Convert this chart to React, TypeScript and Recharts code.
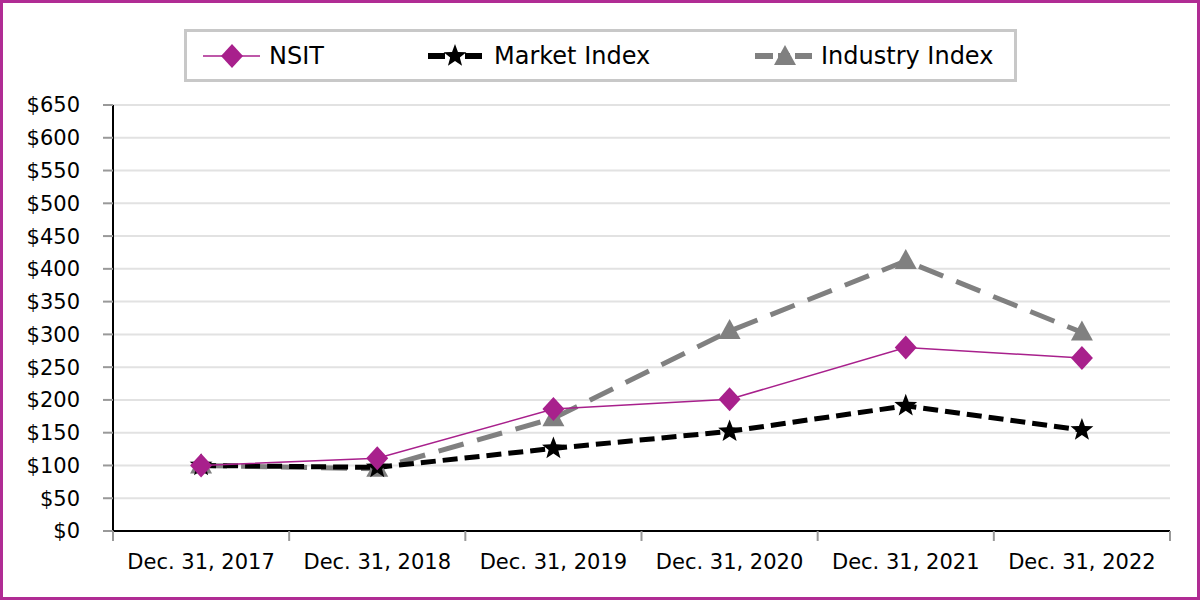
import React from "react";
import { LineChart, Line, XAxis, YAxis, CartesianGrid, Legend } from "recharts";

const years = ["Dec. 31, 2017", "Dec. 31, 2018", "Dec. 31, 2019", "Dec. 31, 2020", "Dec. 31, 2021", "Dec. 31, 2022"];
const nsit = [100, 111, 186, 201, 280, 264];
const marketIndex = [100, 97, 126, 152, 191, 154];
const industryIndex = [100, 95, 172, 305, 412, 303];
const yTicks = [0, 50, 100, 150, 200, 250, 300, 350, 400, 450, 500, 550, 600, 650];

const data = years.map((year, i) => ({
  year,
  nsit: nsit[i],
  market: marketIndex[i],
  industry: industryIndex[i],
}));

const W = 1200;
const H = 600;
const X_AXIS_H = 30;
const MARGIN = { top: 52, right: 30, bottom: 69 - X_AXIS_H, left: 0 };
const Y_AXIS_W = 113;
const BAND = (W - MARGIN.left - MARGIN.right - Y_AXIS_W) / years.length;

const MAGENTA = "#A8208C";
const GRAY = "#808080";
const FONT = "'DejaVu Sans', Verdana, sans-serif";

const starPath = (cx: number, cy: number, R: number) => {
  const r = R * 0.42;
  let d = "";
  for (let i = 0; i < 10; i++) {
    const rad = i % 2 === 0 ? R : r;
    const a = -Math.PI / 2 + (i * Math.PI) / 5;
    d += `${i === 0 ? "M" : "L"}${cx + rad * Math.cos(a)},${cy + rad * Math.sin(a)}`;
  }
  return d + "Z";
};

const Diamond = ({ cx, cy }: any) => (
  <path d={`M${cx},${cy - 12}L${cx + 11},${cy}L${cx},${cy + 12}L${cx - 11},${cy}Z`} fill={MAGENTA} />
);
const Star = ({ cx, cy }: any) => <path d={starPath(cx, cy, 12)} fill="#000" />;
const Triangle = ({ cx, cy }: any) => (
  <path d={`M${cx},${cy - 12}L${cx + 11},${cy + 8}L${cx - 11},${cy + 8}Z`} fill={GRAY} />
);

const XTick = ({ x, y, payload, index }: any) => (
  <g>
    <line x1={x - BAND / 2} x2={x - BAND / 2} y1={y} y2={y + 10} stroke="#999" strokeWidth={2} />
    {index === years.length - 1 && (
      <line x1={x + BAND / 2} x2={x + BAND / 2} y1={y} y2={y + 10} stroke="#999" strokeWidth={2} />
    )}
    <text x={x} y={y + 38} textAnchor="middle" fontSize={21} fontFamily={FONT} fill="#000">
      {payload.value}
    </text>
  </g>
);

const legendItems = [
  { label: "NSIT", left: 16, color: MAGENTA, width: 1.5, dash: "", icon: "diamond" },
  { label: "Market Index", left: 241, color: "#000", width: 6, dash: "17 5 10 5", icon: "star" },
  { label: "Industry Index", left: 568, color: GRAY, width: 6, dash: "18 5 12 5", icon: "triangle" },
];

const renderLegend = () => (
  <div
    style={{
      position: "relative",
      width: 827,
      height: 47,
      border: "3px solid #c8c8c8",
      fontFamily: FONT,
      fontSize: 24,
    }}
  >
    {legendItems.map((it) => (
      <div key={it.label} style={{ position: "absolute", left: it.left, top: 0, height: 47, display: "flex", alignItems: "center" }}>
        <svg width={57} height={30} style={{ marginRight: 9 }}>
          <line x1={0} x2={57} y1={15} y2={15} stroke={it.color} strokeWidth={it.width} strokeDasharray={it.dash} />
          {it.icon === "diamond" && <Diamond cx={29} cy={15} />}
          {it.icon === "star" && <Star cx={27} cy={15} />}
          {it.icon === "triangle" && <Triangle cx={30} cy={16} />}
        </svg>
        <span style={{ color: "#000" }}>{it.label}</span>
      </div>
    ))}
  </div>
);

export default function App() {
  return (
    <div style={{ position: "relative", width: W, height: H, background: "#fff" }}>
      <style>{`body{margin:0}`}</style>
      <LineChart width={W} height={H} data={data} margin={MARGIN}>
        <CartesianGrid vertical={false} stroke="#e2e2e2" strokeWidth={2} />
        <Legend
          verticalAlign="top"
          content={renderLegend}
          wrapperStyle={{ top: 29, left: 184, width: 833 }}
        />
        <XAxis
          dataKey="year"
          scale="band"
          height={X_AXIS_H}
          axisLine={{ stroke: "#000", strokeWidth: 2 }}
          tickLine={false}
          tickSize={0}
          tickMargin={0}
          tick={<XTick />}
          interval={0}
        />
        <XAxis
          xAxisId="top"
          orientation="top"
          dataKey="year"
          scale="band"
          height={0}
          tick={false}
          tickLine={false}
          axisLine={{ stroke: "#000", strokeWidth: 2 }}
        />
        <YAxis
          width={Y_AXIS_W}
          domain={[0, 650]}
          ticks={yTicks}
          interval={0}
          tickFormatter={(v: number) => `$${v}`}
          tick={{ fontSize: 21, fill: "#000", fontFamily: FONT }}
          tickSize={10}
          tickMargin={23}
          tickLine={{ stroke: "#999", strokeWidth: 2 }}
          axisLine={{ stroke: "#000", strokeWidth: 2 }}
        />
        <YAxis
          yAxisId="right"
          orientation="right"
          width={0}
          domain={[0, 650]}
          tick={false}
          tickLine={false}
          axisLine={{ stroke: "#000", strokeWidth: 2 }}
        />
        <Line
          dataKey="industry"
          stroke={GRAY}
          strokeWidth={5}
          strokeDasharray="26 14"
          dot={<Triangle />}
          activeDot={false}
          isAnimationActive={false}
        />
        <Line
          dataKey="market"
          stroke="#000"
          strokeWidth={5}
          strokeDasharray="15 7"
          dot={<Star />}
          activeDot={false}
          isAnimationActive={false}
        />
        <Line
          dataKey="nsit"
          stroke={MAGENTA}
          strokeWidth={1.5}
          dot={<Diamond />}
          activeDot={false}
          isAnimationActive={false}
        />
      </LineChart>
      <div
        style={{
          position: "absolute",
          inset: 0,
          border: "3px solid #B02C94",
          pointerEvents: "none",
        }}
      />
    </div>
  );
}
